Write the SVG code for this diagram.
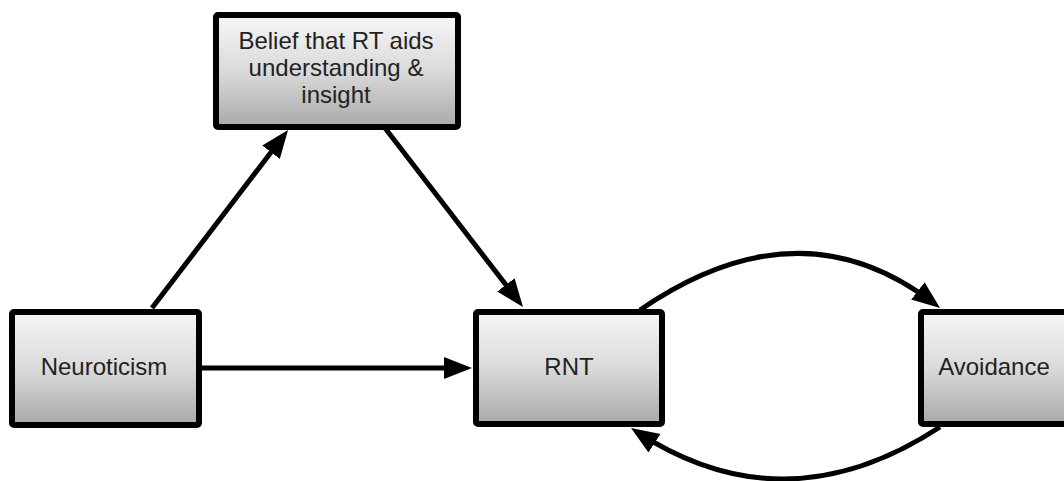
<svg xmlns="http://www.w3.org/2000/svg" width="1064" height="481" viewBox="0 0 1064 481">
  <defs>
    <linearGradient id="boxFill" x1="0" y1="0" x2="0" y2="1">
      <stop offset="0" stop-color="#f6f6f6"/>
      <stop offset="0.5" stop-color="#dadada"/>
      <stop offset="1" stop-color="#a9a9a9"/>
    </linearGradient>
    <marker id="arrow" markerUnits="userSpaceOnUse" markerWidth="30" markerHeight="24" refX="21" refY="11" orient="auto">
      <path d="M0,0 L28,11 L0,22 Z" fill="#000"/>
    </marker>
  </defs>
  <style>
    .box { fill: url(#boxFill); stroke: #000; stroke-width: 6; }
    .lbl { font-family: "Liberation Sans", Arial, sans-serif; font-size: 24px; fill: #222; text-anchor: middle; }
    .conn { fill: none; stroke: #000; stroke-width: 5; marker-end: url(#arrow); }
  </style>
  <rect width="1064" height="481" fill="#fff"/>
  <g id="connectors">
    <line class="conn" x1="152" y1="308" x2="283.8" y2="135.6"/>
    <line class="conn" x1="385" y1="128" x2="518.7" y2="301.5"/>
    <line class="conn" x1="202" y1="368" x2="465" y2="368"/>
    <path class="conn" d="M640,310 Q800,200 934.5,303.7"/>
    <path class="conn" d="M940,427 Q785,528.5 636.9,431.8"/>
  </g>
  <g id="node-belief">
    <rect class="box" x="216" y="15" width="242" height="112" rx="2"/>
    <text class="lbl" x="336" y="49">Belief that RT aids</text>
    <text class="lbl" x="336" y="75.5">understanding &amp;</text>
    <text class="lbl" x="336" y="103">insight</text>
  </g>
  <g id="node-neuroticism">
    <rect class="box" x="12" y="312" width="187" height="113" rx="2"/>
    <text class="lbl" x="104" y="375">Neuroticism</text>
  </g>
  <g id="node-rnt">
    <rect class="box" x="476" y="312" width="186" height="112" rx="2"/>
    <text class="lbl" x="569" y="375">RNT</text>
  </g>
  <g id="node-avoidance">
    <rect class="box" x="921" y="312" width="146" height="112" rx="2"/>
    <text class="lbl" x="994" y="375">Avoidance</text>
  </g>
</svg>
